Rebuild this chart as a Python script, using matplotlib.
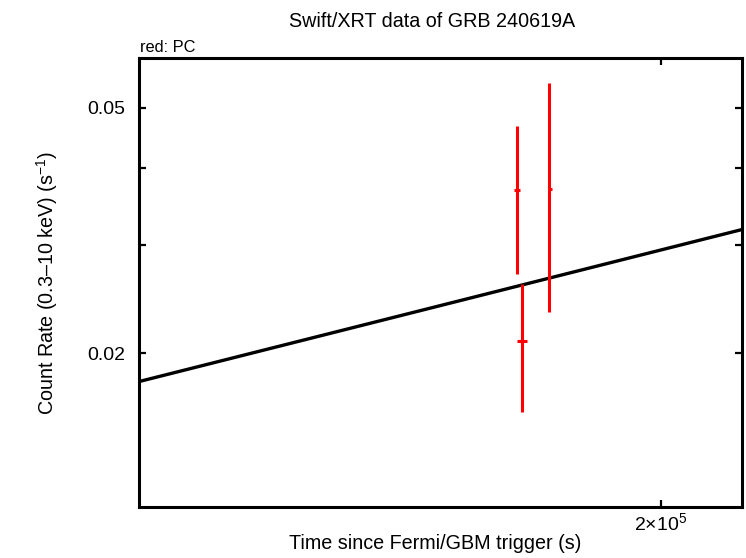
import matplotlib
matplotlib.use("Agg")
import matplotlib.pyplot as plt
from matplotlib.ticker import FixedLocator, FixedFormatter, NullLocator

plt.rcParams['font.family'] = ['Liberation Sans', 'DejaVu Sans']
plt.rcParams['mathtext.fontset'] = 'custom'
plt.rcParams['mathtext.rm'] = 'Liberation Sans'
plt.rcParams['mathtext.it'] = 'Liberation Sans:italic'

# PC mode data points
pc_time = [1.7376e5, 1.7932e5, 1.746e5]
pc_time_lo = [1.732e5, 1.790e5, 1.737e5]
pc_time_hi = [1.742e5, 1.797e5, 1.754e5]
pc_rate = [0.03679, 0.03692, 0.02094]
pc_rate_hi = [0.0467, 0.05477, 0.02588]
pc_rate_lo = [0.02689, 0.02331, 0.01605]

# model line
model_time = [1.2e5, 2.165e5]
model_rate = [0.0180, 0.03174]

xlim = [1.2e5, 2.165e5]
ylim = [0.011273, 0.06019]
x_ticks = [2e5]
x_ticklabels = ['2$\\times$10$^{5}$']
y_major = [0.02, 0.05]
y_major_labels = ['0.02', '0.05']
y_minor = [0.03, 0.04]

W, H = 746, 558
fig = plt.figure(figsize=(W/100, H/100), dpi=100)
ax = fig.add_axes([139/W, 1-507/H, (742-139)/W, (507-58)/H])
ax.set_xscale('log')
ax.set_yscale('log')

ax.plot(model_time, model_rate, color='black', lw=2.4, solid_capstyle='butt', zorder=2)

xerr = [[t - lo for t, lo in zip(pc_time, pc_time_lo)],
        [hi - t for t, hi in zip(pc_time, pc_time_hi)]]
yerr = [[r - lo for r, lo in zip(pc_rate, pc_rate_lo)],
        [hi - r for r, hi in zip(pc_rate, pc_rate_hi)]]
ax.errorbar(pc_time, pc_rate, xerr=xerr, yerr=yerr, fmt='none',
            ecolor='red', elinewidth=2.2, capsize=0, zorder=3)

ax.set_xlim(xlim)
ax.set_ylim(ylim)

ax.xaxis.set_major_locator(FixedLocator(x_ticks))
ax.xaxis.set_major_formatter(FixedFormatter(x_ticklabels))
ax.xaxis.set_minor_locator(NullLocator())
ax.yaxis.set_major_locator(FixedLocator(y_major))
ax.yaxis.set_major_formatter(FixedFormatter(y_major_labels))
ax.yaxis.set_minor_locator(FixedLocator(y_minor))
ax.yaxis.set_minor_formatter(FixedFormatter(['', '']))

ax.tick_params(which='both', direction='in', top=True, right=True,
               length=5, width=1.6, color='black')
ax.tick_params(axis='y', labelsize=14, pad=10)
ax.tick_params(axis='x', labelsize=14, pad=4)

for s in ax.spines.values():
    s.set_linewidth(2.2)

fig.text(435.5/W, 1-549/H, 'Time since Fermi/GBM trigger (s)', ha='center', va='baseline', fontsize=14.2)
fig.text(47/W, 1-282.5/H, 'Count Rate (0.3–10 keV) (s$^{-1}$)', ha='center', va='center',
         rotation=90, fontsize=14.2)
fig.text(432.5/W, 1-27/H, 'Swift/XRT data of GRB 240619A', ha='center', va='baseline', fontsize=14.2)
fig.text(140/W, 1-52/H, 'red: PC', ha='left', va='baseline', fontsize=11.8)

fig.savefig('out.png', dpi=100)
